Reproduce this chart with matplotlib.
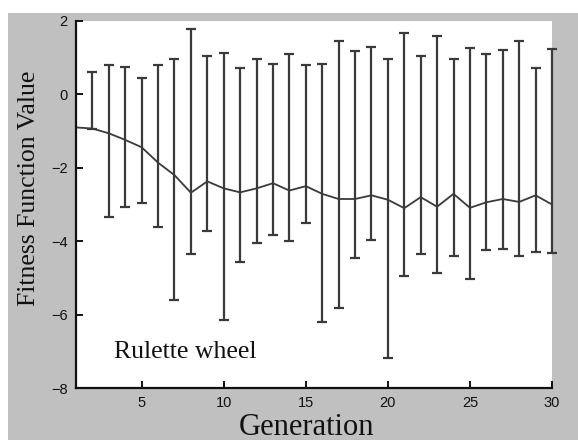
import matplotlib
matplotlib.use("Agg")
import matplotlib.pyplot as plt
from matplotlib.patches import Rectangle
import numpy as np

# Generation index
generation = list(range(1, 31))

# Mean fitness per generation
mean_fitness = [-0.90, -0.93, -1.06, -1.24, -1.44, -1.86, -2.20, -2.68, -2.37, -2.56,
                -2.67, -2.56, -2.42, -2.62, -2.50, -2.71, -2.85, -2.85, -2.75, -2.87,
                -3.10, -2.80, -3.06, -2.71, -3.09, -2.94, -2.85, -2.93, -2.75, -3.00]

# Upper / lower ends of the error bars (generation 1 has no spread)
upper = [-0.90, 0.60, 0.80, 0.76, 0.44, 0.80, 0.97, 1.78, 1.05, 1.13,
         0.71, 0.97, 0.84, 1.09, 0.80, 0.84, 1.46, 1.17, 1.29, 0.97,
         1.66, 1.04, 1.58, 0.97, 1.26, 1.09, 1.22, 1.46, 0.72, 1.23]
lower = [-0.90, -0.95, -3.33, -3.08, -2.97, -3.62, -5.60, -4.36, -3.71, -6.15,
         -4.58, -4.04, -3.82, -4.00, -3.50, -6.19, -5.81, -4.45, -3.96, -7.17,
         -4.96, -4.36, -4.86, -4.41, -5.03, -4.25, -4.20, -4.41, -4.29, -4.31]

x_ticks = [5, 10, 15, 20, 25, 30]
y_ticks = [2, 0, -2, -4, -6, -8]

W, H = 578, 440
fig = plt.figure(figsize=(W / 100, H / 100), dpi=100, facecolor="#c0c0c0")

# white margins along the top and left edges of the window
for rect in [(0, (H - 13) / H, 1, 13 / H), (0, 0, 8 / W, 1)]:
    fig.add_artist(Rectangle(rect[:2], rect[2], rect[3], transform=fig.transFigure,
                             facecolor="white", edgecolor="none", zorder=-5))

ax = fig.add_axes([76 / W, 52 / H, 476 / W, 367 / H])
ax.set_facecolor("white")

mean = np.array(mean_fitness)
yerr = np.vstack([mean - np.array(lower), np.array(upper) - mean])
line_col = "#3a3a3a"
ax.errorbar(generation, mean, yerr=yerr, errorevery=(1, 1), color=line_col,
            ecolor=line_col, elinewidth=1.6, capsize=3.8, capthick=1.6,
            linewidth=1.3, clip_on=False)

ax.set_xlim(1, 30)
ax.set_ylim(-8, 2)
ax.set_xticks(x_ticks)
ax.set_yticks(y_ticks)

for side in ("top", "right"):
    ax.spines[side].set_visible(False)
for side in ("left", "bottom"):
    ax.spines[side].set_linewidth(1.6)
    ax.spines[side].set_color("#111111")

tick_font = ["Liberation Sans Narrow", "Liberation Sans", "DejaVu Sans"]
ax.tick_params(direction="in", length=5, width=1.4, colors="#111111",
               labelsize=10.5, pad=6)
for lab in ax.get_xticklabels() + ax.get_yticklabels():
    lab.set_family(tick_font)

serif = ["Liberation Serif", "DejaVu Serif"]
fig.text(307 / W, 1 - 427 / H, "Generation", family=serif, fontsize=22,
         ha="center", va="center", color="#111111")
fig.text(29 / W, 1 - 188 / H, "Fitness Function Value", family=serif,
         fontsize=18.5, rotation=90, ha="center", va="center", color="#111111")

ax.text(3.3, -7.02, "Rulette wheel", family=serif, fontsize=18.5,
        ha="left", va="center", color="#111111")

fig.savefig("out.png", dpi=100, facecolor=fig.get_facecolor())
